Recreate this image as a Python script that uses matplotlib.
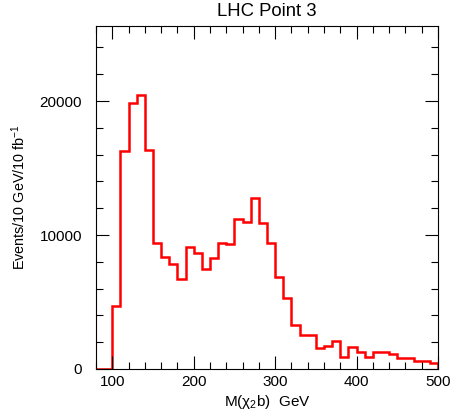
import numpy as np
import matplotlib
matplotlib.use("Agg")
import matplotlib.pyplot as plt
from matplotlib.ticker import MultipleLocator

plt.rcParams['font.family'] = ['Liberation Sans', 'DejaVu Sans']
plt.rcParams['mathtext.fontset'] = 'custom'
plt.rcParams['mathtext.rm'] = 'Liberation Sans'
plt.rcParams['mathtext.it'] = 'Liberation Sans:italic'

# bin edges every 10 GeV, from 80 to 500
bin_lo = np.arange(80, 500, 10)
counts = [0, 0, 4700, 16300, 19850, 20450, 16350, 9400, 8380, 7840,
          6720, 9100, 8630, 7460, 8280, 9430, 9330, 11170, 11000, 12760,
          10920, 9380, 6890, 5270, 3260, 2510, 2510, 1540, 1690, 2110,
          920, 1620, 1240, 920, 1290, 1290, 1100, 800, 850, 570,
          570, 420]

edges = np.append(bin_lo, 500)

fig = plt.figure(figsize=(4.58, 4.16), dpi=100)
ax = fig.add_axes([0.2096, 0.113, 0.9563 - 0.2096, 0.9375 - 0.113])

ax.stairs(counts, edges, color='red', linewidth=1.8, baseline=0)

ax.set_xlim(80, 500)
ax.set_ylim(0, 25600)
ax.xaxis.set_major_locator(MultipleLocator(100))
ax.xaxis.set_minor_locator(MultipleLocator(20))
ax.yaxis.set_major_locator(MultipleLocator(10000))
ax.yaxis.set_minor_locator(MultipleLocator(2000))
ax.tick_params(which='both', direction='in', top=True, right=True, labelsize=11)
ax.tick_params(which='major', length=9.5, width=0.8)
ax.tick_params(which='minor', length=5, width=0.8)
ax.tick_params(axis='y', which='major', pad=10)
ax.tick_params(axis='x', which='major', pad=4)

ax.set_title("LHC Point 3", fontsize=13.3, pad=7)
ax.set_xlabel("M(χ$_2$b)  GeV", fontsize=11, labelpad=3)
ax.set_ylabel("Events/10 GeV/10 fb$^{-1}$", fontsize=10.4, labelpad=8)

fig.savefig("out.png", dpi=100)
